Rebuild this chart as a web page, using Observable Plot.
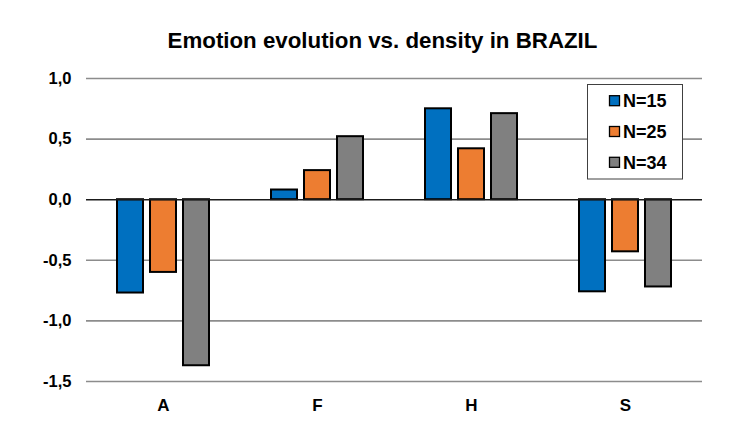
<!DOCTYPE html>
<html>
<head>
<meta charset="utf-8">
<script src="https://cdn.jsdelivr.net/npm/d3@7"></script>
<script src="https://cdn.jsdelivr.net/npm/@observablehq/plot@0.6"></script>
<style>
  html, body { margin: 0; padding: 0; background: #fff; }
  #chart { width: 745px; height: 447px; }
</style>
</head>
<body>
<div id="chart"></div>
<script>
const title = "Emotion evolution vs. density in BRAZIL";
const categories = ["A", "F", "H", "S"];
const series = ["N=15", "N=25", "N=34"];
const n15 = [-0.77, 0.08, 0.75, -0.76];
const n25 = [-0.60, 0.24, 0.42, -0.43];
const n34 = [-1.37, 0.52, 0.71, -0.72];
const yTicks = [-1.5, -1.0, -0.5, 0, 0.5, 1.0];
const colors = ["#0070C0", "#ED7D31", "#808080"];

const seriesValues = [n15, n25, n34];
const data = [];
categories.forEach((c, i) => {
  series.forEach((s, j) => data.push({cat: c, series: s, value: seriesValues[j][i]}));
});

const font = "'Liberation Sans', Arial, Helvetica, sans-serif";
const fmt = d => d.toFixed(1).replace(".", ",");

const chart = Plot.plot({
  width: 745,
  height: 447,
  marginTop: 78,
  marginBottom: 66,
  marginLeft: 86,
  marginRight: 43,
  style: {fontFamily: font, fontWeight: "bold", fontSize: "16px", color: "#000", background: "#fff"},
  fx: {domain: categories, padding: 0, label: null},
  x: {domain: series, axis: null, paddingInner: 0.206, paddingOuter: 0.868},
  y: {domain: [-1.5, 1.0], label: null},
  color: {domain: series, range: colors},
  marks: [
    Plot.ruleY(yTicks.filter(d => d !== 0), {stroke: "#8c8c8c", strokeWidth: 1.6, strokeOpacity: 1}),
    Plot.barY(data, {fx: "cat", x: "series", y: "value", fill: "series", stroke: "#000", strokeWidth: 2}),
    Plot.ruleY([0], {stroke: "#1a1a1a", strokeWidth: 1.6}),
    Plot.axisY({ticks: yTicks, tickFormat: fmt, tickSize: 0, tickPadding: 15, fontSize: 16, label: null}),
    Plot.axisFx({anchor: "bottom", tickSize: 0, tickPadding: 17, fontSize: 17, label: null})
  ]
});

document.getElementById("chart").appendChild(chart);

const svg = d3.select(chart);
svg.selectAll("g[aria-label='y-axis tick label'] text").style("font-size", "16.5px");
svg.selectAll("g[aria-label='fx-axis tick label'] text").style("font-size", "17px");

// Title
svg.append("text")
  .attr("x", 382.5).attr("y", 48)
  .attr("text-anchor", "middle")
  .style("font-family", font).style("font-weight", "bold").style("font-size", "22.3px")
  .attr("fill", "#000")
  .text(title);

// Legend
const lg = svg.append("g").attr("text-anchor", "start");
lg.append("rect")
  .attr("x", 587.5).attr("y", 84.5).attr("width", 95).attr("height", 94.5)
  .attr("fill", "#fff").attr("stroke", "#404040").attr("stroke-width", 1);
const rowY = [100.7, 131.5, 162.3];
series.forEach((s, i) => {
  lg.append("rect")
    .attr("x", 609.5).attr("y", rowY[i] - 5).attr("width", 10).attr("height", 10)
    .attr("fill", colors[i]).attr("stroke", "#000").attr("stroke-width", 1.3);
  lg.append("text")
    .attr("x", 623).attr("y", rowY[i])
    .attr("dy", "0.36em")
    .attr("text-anchor", "start")
    .style("font-family", font).style("font-weight", "bold").style("font-size", "18px")
    .attr("fill", "#000")
    .text(s);
});
</script>
</body>
</html>
